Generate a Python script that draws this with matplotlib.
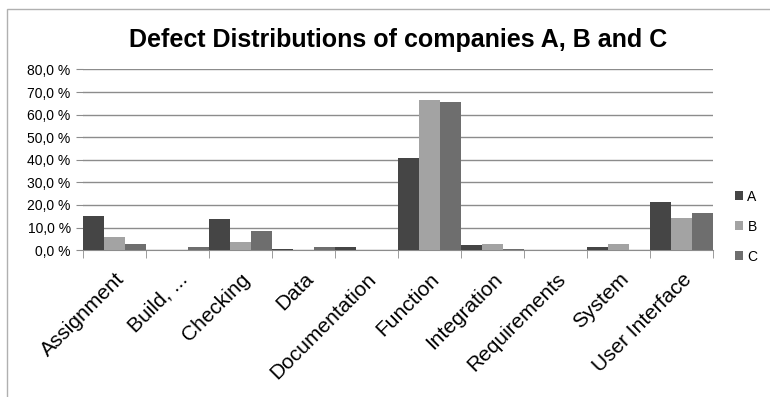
import numpy as np
import matplotlib
matplotlib.use("Agg")
import matplotlib.pyplot as plt
from matplotlib.patches import Rectangle

plt.rcParams['font.family'] = ['Liberation Sans', 'DejaVu Sans']

categories = ['Assignment', 'Build, ...', 'Checking', 'Data', 'Documentation',
              'Function', 'Integration', 'Requirements', 'System', 'User Interface']
company_a = [14.9, 0.0, 13.9, 0.6, 1.3, 40.7, 2.3, 0.0, 1.5, 21.5]
company_b = [5.6, 0.0, 3.8, 0.0, 0.0, 66.5, 2.9, 0.0, 2.9, 14.2]
company_c = [2.8, 1.3, 8.5, 1.3, 0.0, 65.6, 0.4, 0.0, 0.0, 16.6]
series = {'A': company_a, 'B': company_b, 'C': company_c}
colors = {'A': '#454545', 'B': '#a3a3a3', 'C': '#6e6e6e'}
yticks = np.arange(0, 81, 10)

fig = plt.figure(figsize=(7.7, 3.97), dpi=100)
ax = fig.add_axes([0.108, 0.370, 0.818, 0.455])

x = np.arange(len(categories))
w = 1 / 3
for i, (name, vals) in enumerate(series.items()):
    ax.bar(x + (i - 1) * w, vals, width=w, color=colors[name], label=name,
           linewidth=0, zorder=3)

ax.set_xlim(-0.5, len(categories) - 0.5)
ax.set_ylim(0, 80)
ax.set_yticks(yticks)
ax.set_yticklabels([f'{v:.1f} %'.replace('.', ',') for v in yticks], fontsize=10)
ax.yaxis.grid(True, color='#8c8c8c', linewidth=1, zorder=0)
ax.tick_params(axis='y', length=5, color='#8c8c8c', pad=4)

ax.set_xticks(x)
ax.set_xticklabels(categories, rotation=45, ha='right', rotation_mode='anchor',
                   fontsize=15)
ax.set_xticks(np.arange(-0.5, len(categories)), minor=True)
ax.tick_params(axis='x', which='major', length=0, pad=14)
ax.tick_params(axis='x', which='minor', length=6, color='#8c8c8c')

for s in ['top', 'right', 'left']:
    ax.spines[s].set_visible(False)
ax.spines['bottom'].set_color('#8c8c8c')

ax.set_title('Defect Distributions of companies A, B and C', fontsize=18,
             fontweight='bold', pad=16)

ax.legend(loc='center left', bbox_to_anchor=(1.015, 0.13), frameon=False,
          fontsize=10, handlelength=0.6, handleheight=0.6, labelspacing=1.15,
          handletextpad=0.3)

fig.patches.append(Rectangle((7 / 770, -0.1), 1.2, 1 - 9 / 397 + 0.1,
                             transform=fig.transFigure, fill=False,
                             edgecolor='#b0b0b0', linewidth=1))

fig.savefig('out.png', dpi=100)
